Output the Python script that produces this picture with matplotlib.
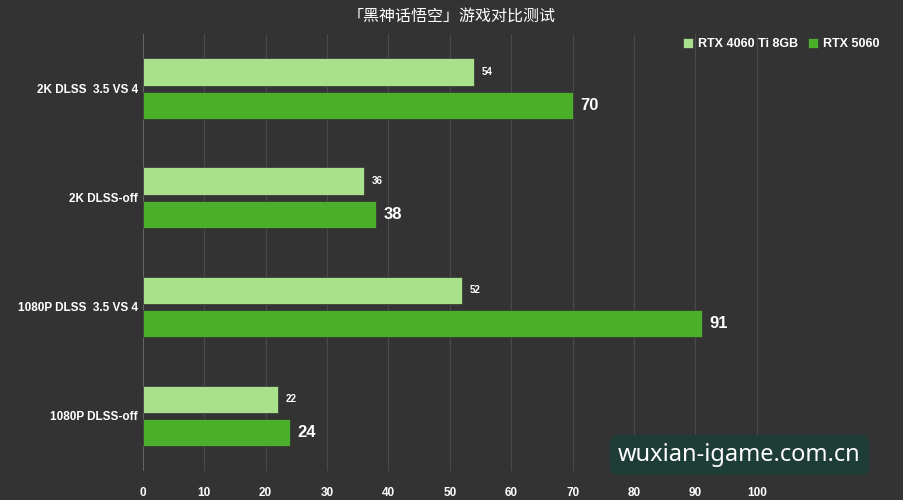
import matplotlib
matplotlib.use("Agg")
import matplotlib.pyplot as plt
import numpy as np

plt.rcParams['font.family'] = ['Liberation Sans', 'Noto Sans CJK SC', 'DejaVu Sans']

categories = ["2K DLSS  3.5 VS 4", "2K DLSS-off", "1080P DLSS  3.5 VS 4", "1080P DLSS-off"]
rtx4060ti = [54, 36, 52, 22]
rtx5060 = [70, 38, 91, 24]
series_names = ["RTX 4060 Ti 8GB", "RTX 5060"]
LIGHT, DARK = "#a8e08c", "#4caf2a"
BG = "#333333"

fig = plt.figure(figsize=(9.04, 5.0), dpi=100, facecolor=BG)
ax = fig.add_axes([0.158, 0.059, 0.815, 0.873], facecolor=BG)
y = np.arange(len(categories))
h, off = 0.25, 0.152
ax.barh(y - off, rtx4060ti, height=h, color=LIGHT, edgecolor="#333", lw=0.5, label=series_names[0], zorder=3)
ax.barh(y + off, rtx5060, height=h, color=DARK, edgecolor="#333", lw=0.5, label=series_names[1], zorder=3)
for yi, v in zip(y, rtx4060ti):
    ax.text(v + 1.2, yi - off, str(v), color="white", fontsize=7, fontweight="bold", va="center")
for yi, v in zip(y, rtx5060):
    ax.text(v + 1.2, yi + off, str(v), color="white", fontsize=12, fontweight="bold", va="center")

ax.set_ylim(len(categories) - 0.5, -0.5)
ax.set_xlim(0, 120)
ax.set_xticks(range(0, 101, 10))
ax.set_yticks(y)
ax.set_yticklabels(categories)
ax.tick_params(colors="white", length=0, labelsize=8.5)
for t in ax.get_xticklabels() + ax.get_yticklabels():
    t.set_fontweight("bold")
ax.tick_params(axis="x", pad=12)
for x in range(10, 101, 10):
    ax.axvline(x, color="#4a4a4a", lw=0.8, zorder=0)
for s in ax.spines.values():
    s.set_visible(False)
ax.axvline(0, color="#666", lw=0.8, zorder=1)

leg = fig.legend(*ax.get_legend_handles_labels(), loc="center right", bbox_to_anchor=(0.985, 0.912),
                 ncol=2, frameon=False, handlelength=0.8, handleheight=0.8, handletextpad=0.4,
                 columnspacing=0.8, prop={"weight": "bold", "size": 9})
for t in leg.get_texts():
    t.set_color("white")

fig.text(0.5, 0.968, "「黑神话悟空」游戏对比测试", color="white", fontsize=11.5, ha="center", va="center",
         family=["Noto Sans CJK SC"])
fig.text(0.818, 0.09, "wuxian-igame.com.cn", color="white", fontsize=17, ha="center", va="center",
         family=["Noto Sans"],
         bbox=dict(boxstyle="round,pad=0.35,rounding_size=0.4", fc="#1e3d36", ec="none"))

fig.savefig("out.png", dpi=100, facecolor=BG)
